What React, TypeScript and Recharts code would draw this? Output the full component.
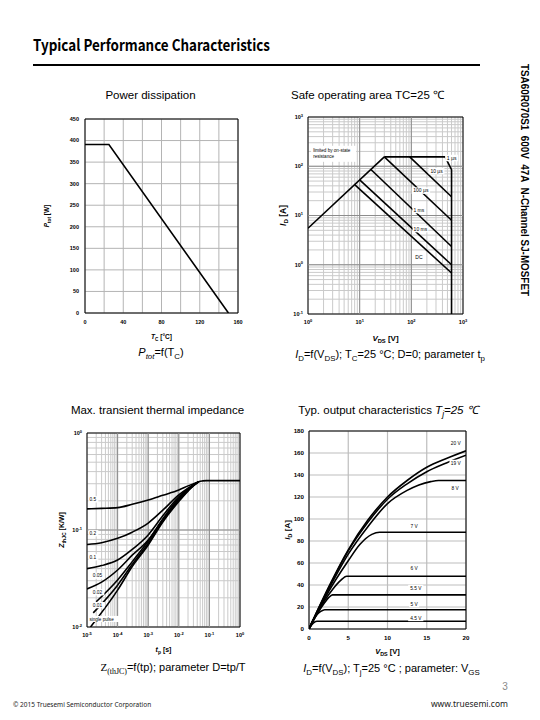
import React from "react";
import {
  LineChart,
  Line,
  XAxis,
  YAxis,
  CartesianGrid,
  ReferenceLine,
  ReferenceArea,
  ReferenceDot,
} from "recharts";

const SANS = "'Liberation Sans', Arial, sans-serif";

// power dissipation
const tcPoints = [0, 25, 150];
const ptotPoints = [391, 391, 0];
const tcTicks = [0, 20, 40, 60, 80, 100, 120, 140, 160];
const tcLabelled = [0, 40, 80, 120, 160];
const ptotTicks = [0, 50, 100, 150, 200, 250, 300, 350, 400, 450];

// safe operating area (V, A)
const rdsV = [1, 30];
const rdsI = [5.5, 155];
const us1V = [30, 450, 600, 600];
const us1I = [155, 155, 85, 0.1];
const us10V = [93, 600];
const us10I = [155, 24];
const us100V = [30, 600];
const us100I = [155, 8];
const ms1V = [16.5, 600];
const ms1I = [86, 2.35];
const ms10V = [10, 600];
const ms10I = [53, 1.0];
const dcV = [8, 600];
const dcI = [42.5, 0.68];
const soaXDecades = [1, 10, 100, 1000];
const soaYDecades = [0.1, 1, 10, 100, 1000];

// transient thermal impedance (s, K/W)
const dT = [1e-5, 3e-5, 1e-4, 3e-4, 1e-3, 3e-3, 1e-2, 2e-2, 4.5e-2];
const d05Z = [0.165, 0.167, 0.17, 0.184, 0.204, 0.228, 0.258, 0.285, 0.315];
const d02Z = [0.071, 0.074, 0.082, 0.095, 0.118, 0.16, 0.23, 0.27, 0.315];
const d01Z = [0.04, 0.043, 0.049, 0.063, 0.089, 0.14, 0.22, 0.265, 0.315];
const d005Z = [0.0247, 0.029, 0.0387, 0.055, 0.079, 0.13, 0.214, 0.262, 0.315];
const d002T = [2e-5, 1e-4, 3e-4, 1e-3, 3e-3, 1e-2, 2e-2, 4.5e-2];
const d002Z = [0.0182, 0.0305, 0.047, 0.077, 0.127, 0.207, 0.258, 0.315];
const d001T = [1.6e-5, 1e-4, 3e-4, 1e-3, 3e-3, 1e-2, 2e-2, 4.5e-2];
const d001Z = [0.014, 0.027, 0.044, 0.073, 0.124, 0.202, 0.255, 0.315];
const singleT = [1.3e-5, 1e-4, 3e-4, 1e-3, 3e-3, 1e-2, 2e-2, 4.5e-2, 6e-2, 8e-2, 0.1, 1];
const singleZ = [0.01, 0.024, 0.042, 0.07, 0.121, 0.197, 0.252, 0.315, 0.321, 0.323, 0.323, 0.323];
const zthXDecades = [1e-5, 1e-4, 1e-3, 1e-2, 1e-1, 1];
const zthYDecades = [0.01, 0.1, 1];

// output characteristics (V, A)
const v20 = [0, 1, 2.5, 5, 7.5, 10, 12.5, 15, 17.5, 20];
const i20 = [0, 15.5, 38, 72, 99, 120, 135, 147, 155, 162];
const i19 = [0, 15.5, 37.5, 71, 97, 118, 132, 143, 151, 158];
const v8 = [0, 1, 2.5, 5, 7.5, 10, 12.5, 14, 15.5, 16.5, 20];
const i8 = [0, 15, 36, 68, 93, 114, 126, 131, 134, 135, 135];
const v7 = [0, 1, 2.5, 5, 6.5, 8, 9, 20];
const i7 = [0, 14.5, 34, 62, 77, 86, 88, 88];
const v6 = [0, 1, 2, 3, 4, 4.8, 20];
const i6 = [0, 14, 26, 36, 44, 48, 48];
const v55 = [0, 1, 2, 2.5, 3, 20];
const i55 = [0, 13, 24, 28.5, 31, 31];
const v5 = [0, 0.5, 1, 1.5, 2, 20];
const i5 = [0, 8, 13, 16, 17.5, 17.5];
const v45 = [0, 0.5, 1, 20];
const i45 = [0, 5, 7, 7];
const vdsTicks = [0, 5, 10, 15, 20];
const idTicks = [0, 20, 40, 60, 80, 100, 120, 140, 160, 180];

const zip = (xs: number[], ys: number[]) => xs.map((x, i) => ({ x, y: ys[i] }));

const logTicks = (decades: number[]) => {
  const out: number[] = [];
  for (let k = 0; k < decades.length - 1; k++)
    for (let m = 1; m < 10; m++) out.push(+(decades[k] * m).toPrecision(6));
  out.push(decades[decades.length - 1]);
  return out;
};

type Seg = { t: string; sub?: boolean; sup?: boolean; it?: boolean; fam?: string };

function segs(list: Seg[], fs: number) {
  let shift = 0;
  return list.map((s, i) => {
    const target = s.sub ? fs * 0.28 : s.sup ? -fs * 0.42 : 0;
    const dy = target - shift;
    shift = target;
    return (
      <tspan
        key={i}
        dy={dy}
        fontSize={s.sub || s.sup ? fs * 0.72 : fs}
        fontStyle={s.it ? "italic" : undefined}
        fontFamily={s.fam}
      >
        {s.t}
      </tspan>
    );
  });
}

const tickFn =
  (axis: "x" | "y", fs: number, off: number, show?: number[], log?: boolean) =>
  (p: any) => {
    const v = p.payload.value as number;
    const e = Math.log10(v);
    if (log ? Math.abs(e - Math.round(e)) > 1e-6 : show && !show.includes(v)) return <g />;
    const body = log ? segs([{ t: "10" }, { t: String(Math.round(e)), sup: true }], fs) : String(v);
    if (axis === "x")
      return (
        <text x={p.x} y={p.y + off} textAnchor="middle" fontSize={fs} fontWeight="bold" fontFamily={SANS} fill="#000">
          {body}
        </text>
      );
    return (
      <text x={p.x - off} y={p.y + fs * 0.35} textAnchor="end" fontSize={fs} fontWeight="bold" fontFamily={SANS} fill="#000">
        {body}
      </text>
    );
  };

const xTitle = (list: Seg[], fs: number, off: number) => (p: any) => {
  const vb = p.viewBox;
  return (
    <text x={vb.x + vb.width / 2} y={vb.y + off} textAnchor="middle" fontSize={fs} fontWeight="bold" fontFamily={SANS}>
      {segs(list, fs)}
    </text>
  );
};

const yTitle = (list: Seg[], fs: number, gap: number) => (p: any) => {
  const vb = p.viewBox;
  const cx = vb.x + vb.width - gap + fs * 0.35;
  const cy = vb.y + vb.height / 2;
  return (
    <text transform={`translate(${cx},${cy}) rotate(-90)`} textAnchor="middle" fontSize={fs} fontWeight="bold" fontFamily={SANS}>
      {segs(list, fs)}
    </text>
  );
};

const tag =
  (text: string, fs: number, anchor: "start" | "middle" = "middle", box = true) =>
  (p: any) => {
    const w = text.length * fs * 0.55 + 2;
    const h = fs + 1.5;
    const left = anchor === "middle" ? p.cx - w / 2 : p.cx - 1;
    return (
      <g>
        {box && <rect x={left} y={p.cy - h / 2} width={w} height={h} fill="#fff" />}
        <text x={p.cx} y={p.cy + fs * 0.35} textAnchor={anchor} fontSize={fs} fontFamily={SANS} fill="#000">
          {text}
        </text>
      </g>
    );
  };

const rdsBox = (p: any) => (
  <g>
    <rect x={p.cx} y={p.cy} width={45} height={16} fill="#fff" />
    <text x={p.cx + 2} y={p.cy + 6.5} fontSize={4.6} fontFamily={SANS}>
      limited by on-state
    </text>
    <text x={p.cx + 2} y={p.cy + 12.5} fontSize={4.6} fontFamily={SANS}>
      resistance
    </text>
  </g>
);

const lineProps = {
  dataKey: "y",
  stroke: "#000",
  strokeWidth: 1.6,
  dot: false,
  isAnimationActive: false,
} as const;

function PowerChart() {
  return (
    <div style={{ position: "absolute", left: 36, top: 110 }}>
      <LineChart width={214} height={240} margin={{ top: 9, right: 12, bottom: 7, left: 14 }}>
        <CartesianGrid stroke="#b4b4b4" />
        <XAxis
          dataKey="x"
          type="number"
          domain={[0, 160]}
          allowDataOverflow
          ticks={tcTicks}
          interval={0}
          axisLine={false}
          tickLine={false}
          tickSize={0}
          tickMargin={0}
          height={30}
          tick={tickFn("x", 5.5, 11, tcLabelled)}
          label={{ content: xTitle([{ t: "T", it: true }, { t: "C", sub: true }, { t: " [°C]" }], 6.5, 26) }}
        />
        <YAxis
          type="number"
          domain={[0, 450]}
          allowDataOverflow
          ticks={ptotTicks}
          interval={0}
          width={35}
          axisLine={false}
          tickLine={false}
          tickSize={0}
          tickMargin={0}
          tick={tickFn("y", 5.5, 6)}
          label={{ content: yTitle([{ t: "P", it: true }, { t: "tot", sub: true }, { t: " [W]" }], 6.5, 38) }}
        />
        <ReferenceArea x1={0} x2={160} y1={0} y2={450} fill="none" stroke="#000" strokeWidth={1} />
        <Line data={zip(tcPoints, ptotPoints)} {...lineProps} />
      </LineChart>
    </div>
  );
}

function SoaChart() {
  return (
    <div style={{ position: "absolute", left: 270, top: 108 }}>
      <LineChart width={200} height={240} margin={{ top: 9, right: 7, bottom: 4, left: 0 }}>
        <CartesianGrid stroke="#cacaca" />
        <XAxis
          dataKey="x"
          type="number"
          scale="log"
          domain={[1, 1000]}
          allowDataOverflow
          ticks={logTicks(soaXDecades)}
          interval={0}
          axisLine={false}
          tickLine={false}
          tickSize={0}
          tickMargin={0}
          height={30}
          tick={tickFn("x", 5.5, 10, undefined, true)}
          label={{ content: xTitle([{ t: "V", it: true }, { t: "DS", sub: true }, { t: " [V]" }], 8, 27) }}
        />
        <YAxis
          type="number"
          scale="log"
          domain={[0.1, 1000]}
          allowDataOverflow
          ticks={logTicks(soaYDecades)}
          interval={0}
          width={38}
          axisLine={false}
          tickLine={false}
          tickSize={0}
          tickMargin={0}
          tick={tickFn("y", 5.5, 5, undefined, true)}
          label={{ content: yTitle([{ t: "I", it: true }, { t: "D", sub: true }, { t: " [A]" }], 8.5, 25) }}
        />
        {soaXDecades.slice(1, -1).map((v) => (
          <ReferenceLine key={"x" + v} x={v} stroke="#8c8c8c" />
        ))}
        {soaYDecades.slice(1, -1).map((v) => (
          <ReferenceLine key={"y" + v} y={v} stroke="#8c8c8c" />
        ))}
        <ReferenceArea x1={1} x2={1000} y1={0.1} y2={1000} fill="none" stroke="#000" strokeWidth={1} />
        <Line data={zip(rdsV, rdsI)} {...lineProps} />
        <Line data={zip(us1V, us1I)} {...lineProps} />
        <Line data={zip(us10V, us10I)} {...lineProps} />
        <Line data={zip(us100V, us100I)} {...lineProps} />
        <Line data={zip(ms1V, ms1I)} {...lineProps} />
        <Line data={zip(ms10V, ms10I)} {...lineProps} />
        <Line data={zip(dcV, dcI)} {...lineProps} />
        <ReferenceDot x={1.15} y={260} r={0} shape={rdsBox} />
        <ReferenceDot x={602} y={147} r={0} shape={tag("1 µs", 5)} />
        <ReferenceDot x={308} y={80} r={0} shape={tag("10 µs", 5)} />
        <ReferenceDot x={153} y={32} r={0} shape={tag("100 µs", 5)} />
        <ReferenceDot x={140} y={12.9} r={0} shape={tag("1 ms", 5)} />
        <ReferenceDot x={150} y={5.3} r={0} shape={tag("10 ms", 5)} />
        <ReferenceDot x={140} y={1.43} r={0} shape={tag("DC", 5, "middle", false)} />
      </LineChart>
    </div>
  );
}

function ThermalChart() {
  return (
    <div style={{ position: "absolute", left: 40, top: 424 }}>
      <LineChart width={210} height={240} margin={{ top: 9, right: 10, bottom: 7, left: 10 }}>
        <CartesianGrid stroke="#cacaca" />
        <XAxis
          dataKey="x"
          type="number"
          scale="log"
          domain={[1e-5, 1]}
          allowDataOverflow
          ticks={logTicks(zthXDecades)}
          interval={0}
          axisLine={false}
          tickLine={false}
          tickSize={0}
          tickMargin={0}
          height={30}
          tick={tickFn("x", 5.5, 10, undefined, true)}
          label={{ content: xTitle([{ t: "t", it: true }, { t: "p", sub: true }, { t: " [s]" }], 7, 25) }}
        />
        <YAxis
          type="number"
          scale="log"
          domain={[0.01, 1]}
          allowDataOverflow
          ticks={logTicks(zthYDecades)}
          interval={0}
          width={37}
          axisLine={false}
          tickLine={false}
          tickSize={0}
          tickMargin={0}
          tick={tickFn("y", 5.5, 5, undefined, true)}
          label={{ content: yTitle([{ t: "Z", it: true }, { t: "thJC", sub: true }, { t: " [K/W]" }], 7, 25) }}
        />
        {zthXDecades.slice(1, -1).map((v) => (
          <ReferenceLine key={"x" + v} x={v} stroke="#8c8c8c" />
        ))}
        <ReferenceLine y={0.1} stroke="#8c8c8c" />
        <ReferenceArea x1={1e-5} x2={1} y1={0.01} y2={1} fill="none" stroke="#000" strokeWidth={1} />
        <Line data={zip(dT, d05Z)} {...lineProps} type="monotone" />
        <Line data={zip(dT, d02Z)} {...lineProps} type="monotone" />
        <Line data={zip(dT, d01Z)} {...lineProps} type="monotone" />
        <Line data={zip(dT, d005Z)} {...lineProps} type="monotone" />
        <Line data={zip(d002T, d002Z)} {...lineProps} type="monotone" />
        <Line data={zip(d001T, d001Z)} {...lineProps} type="monotone" />
        <Line data={zip(singleT, singleZ)} {...lineProps} type="monotone" />
        <ReferenceDot x={1.2e-5} y={0.207} r={0} shape={tag("0.5", 4.8, "start")} />
        <ReferenceDot x={1.2e-5} y={0.0925} r={0} shape={tag("0.2", 4.8, "start")} />
        <ReferenceDot x={1.2e-5} y={0.0523} r={0} shape={tag("0.1", 4.8, "start")} />
        <ReferenceDot x={1.55e-5} y={0.0338} r={0} shape={tag("0.05", 4.8, "start")} />
        <ReferenceDot x={1.55e-5} y={0.0228} r={0} shape={tag("0.02", 4.8, "start")} />
        <ReferenceDot x={1.55e-5} y={0.0168} r={0} shape={tag("0.01", 4.8, "start")} />
        <ReferenceDot x={1.2e-5} y={0.0121} r={0} shape={tag("single pulse", 4.6, "start")} />
      </LineChart>
    </div>
  );
}

function OutputChart() {
  return (
    <div style={{ position: "absolute", left: 270, top: 422 }}>
      <LineChart width={205} height={240} margin={{ top: 9, right: 9, bottom: 3, left: 0 }}>
        <CartesianGrid stroke="#bdbdbd" strokeWidth={1.2} />
        <XAxis
          dataKey="x"
          type="number"
          domain={[0, 20]}
          allowDataOverflow
          ticks={vdsTicks}
          interval={0}
          axisLine={false}
          tickLine={false}
          tickSize={0}
          tickMargin={0}
          height={30}
          tick={tickFn("x", 6.2, 11)}
          label={{ content: xTitle([{ t: "V", it: true }, { t: "DS", sub: true }, { t: " [V]" }], 7.5, 25) }}
        />
        <YAxis
          type="number"
          domain={[0, 180]}
          allowDataOverflow
          ticks={idTicks}
          interval={0}
          width={39}
          axisLine={false}
          tickLine={false}
          tickSize={0}
          tickMargin={0}
          tick={tickFn("y", 6.2, 5)}
          label={{ content: yTitle([{ t: "I", it: true }, { t: "D", sub: true }, { t: " [A]" }], 8, 22) }}
        />
        <ReferenceArea x1={0} x2={20} y1={0} y2={180} fill="none" stroke="#000" strokeWidth={1} />
        <Line data={zip(v20, i20)} {...lineProps} type="monotone" />
        <Line data={zip(v20, i19)} {...lineProps} type="monotone" />
        <Line data={zip(v8, i8)} {...lineProps} type="monotone" />
        <Line data={zip(v7, i7)} {...lineProps} type="monotone" />
        <Line data={zip(v6, i6)} {...lineProps} type="monotone" />
        <Line data={zip(v55, i55)} {...lineProps} type="monotone" />
        <Line data={zip(v5, i5)} {...lineProps} type="monotone" />
        <Line data={zip(v45, i45)} {...lineProps} type="monotone" />
        <ReferenceDot x={18.7} y={169} r={0} shape={tag("20 V", 4.8)} />
        <ReferenceDot x={18.7} y={151} r={0} shape={tag("19 V", 4.8)} />
        <ReferenceDot x={18.6} y={128} r={0} shape={tag("8 V", 4.8)} />
        <ReferenceDot x={13.4} y={93.6} r={0} shape={tag("7 V", 4.8)} />
        <ReferenceDot x={13.4} y={55.5} r={0} shape={tag("6 V", 4.8)} />
        <ReferenceDot x={13.6} y={37.3} r={0} shape={tag("5.5 V", 4.8)} />
        <ReferenceDot x={13.4} y={22.7} r={0} shape={tag("5 V", 4.8)} />
        <ReferenceDot x={13.6} y={10} r={0} shape={tag("4.5 V", 4.8)} />
      </LineChart>
    </div>
  );
}

function PageText() {
  const cap = 11;
  return (
    <svg width={540} height={720} style={{ position: "absolute", left: 0, top: 0 }}>
      <text
        x={33}
        y={51}
        fontFamily="'Noto Sans CJK SC', 'Noto Sans', sans-serif"
        fontWeight="bold"
        fontSize={16}
        textLength={237}
        lengthAdjust="spacingAndGlyphs"
      >
        Typical Performance Characteristics
      </text>
      <line x1={33} x2={480} y1={65} y2={65} stroke="#000" strokeWidth={2} />
      <text
        transform="translate(520.5,64) rotate(90)"
        fontFamily={SANS}
        fontWeight="bold"
        fontSize={11.5}
        textLength={232}
        lengthAdjust="spacingAndGlyphs"
        style={{ whiteSpace: "pre" }}
      >
        {"TSA60R070S1  600V  47A  N-Channel SJ-MOSFET"}
      </text>

      <text x={150.5} y={99} textAnchor="middle" fontFamily={SANS} fontSize={11.5}>
        Power dissipation
      </text>
      <text x={367.5} y={99} textAnchor="middle" fontFamily={SANS} fontSize={11.5}>
        Safe operating area TC=25 ℃
      </text>
      <text x={157.5} y={414} textAnchor="middle" fontFamily={SANS} fontSize={11.5}>
        Max. transient thermal impedance
      </text>
      <text x={388} y={414} textAnchor="middle" fontFamily={SANS} fontSize={11.5}>
        {segs([{ t: "Typ. output characteristics " }, { t: "T", it: true }, { t: "j", sub: true, it: true }, { t: "=25 ℃", it: true }], 11.5)}
      </text>

      <text x={161} y={356} textAnchor="middle" fontFamily={SANS} fontSize={cap}>
        {segs([{ t: "P", it: true }, { t: "tot", sub: true, it: true }, { t: "=f(T" }, { t: "C", sub: true }, { t: ")" }], cap)}
      </text>
      <text x={390} y={358} textAnchor="middle" fontFamily={SANS} fontSize={cap}>
        {segs(
          [
            { t: "I", it: true },
            { t: "D", sub: true },
            { t: "=f(V" },
            { t: "DS", sub: true },
            { t: "); T" },
            { t: "C", sub: true },
            { t: "=25 °C; D=0; parameter t" },
            { t: "p", sub: true },
          ],
          cap
        )}
      </text>
      <text x={173} y={671} textAnchor="middle" fontFamily={SANS} fontSize={cap}>
        {segs(
          [
            { t: "Z", fam: "'Liberation Serif', serif" },
            { t: "(thJC)", sub: true, fam: "'Liberation Serif', serif" },
            { t: "=f(tp); parameter D=tp/T" },
          ],
          cap
        )}
      </text>
      <text x={391.5} y={672} textAnchor="middle" fontFamily={SANS} fontSize={cap}>
        {segs(
          [
            { t: "I", it: true },
            { t: "D", sub: true },
            { t: "=f(V" },
            { t: "DS", sub: true },
            { t: "); T" },
            { t: "j", sub: true },
            { t: "=25 °C ; parameter: V" },
            { t: "GS", sub: true },
          ],
          cap
        )}
      </text>

      <text x={505} y={690} textAnchor="middle" fontFamily={SANS} fontSize={10} fill="#8a8a8a">
        3
      </text>
      <text x={13} y={707} fontFamily="'Noto Sans', sans-serif" fontSize={6.5} fill="#222">
        © 2015 Truesemi Semiconductor Corporation
      </text>
      <text x={508} y={707} textAnchor="end" fontFamily="'Noto Sans', sans-serif" fontSize={8.5} fill="#222">
        www.truesemi.com
      </text>
    </svg>
  );
}

export default function App() {
  return (
    <div
      style={{
        position: "absolute",
        left: 0,
        top: 0,
        width: 540,
        height: 720,
        background: "#fff",
        overflow: "hidden",
      }}
    >
      <PageText />
      <PowerChart />
      <SoaChart />
      <ThermalChart />
      <OutputChart />
    </div>
  );
}
